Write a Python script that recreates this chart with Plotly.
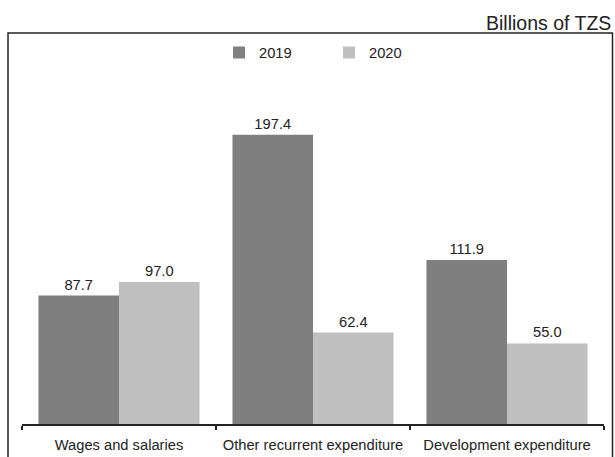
import plotly.graph_objects as go

categories = ["Wages and salaries", "Other recurrent expenditure", "Development expenditure"]
values_2019 = [87.7, 197.4, 111.9]
values_2020 = [97.0, 62.4, 55.0]
series_names = ["2019", "2020"]
unit_label = "Billions of TZS"

W, H = 615, 457
ml, mr, mt, mb = 22, 11, 60, 33
pw = W - ml - mr
ph = H - mt - mb

def px_x(x):
    return (x - ml) / pw

def px_y(y):
    return (H - mb - y) / ph

FONT = "Liberation Sans, Arial, sans-serif"
TXT = "#222222"

fig = go.Figure()
for name, vals, color in [(series_names[0], values_2019, "#7f7f7f"),
                          (series_names[1], values_2020, "#bfbfbf")]:
    fig.add_trace(go.Bar(
        x=categories, y=vals, name=name,
        marker=dict(color=color, line=dict(width=0)),
        text=[f"{v:.1f}" for v in vals],
        textposition="outside",
        textfont=dict(size=14.7, color=TXT, family=FONT),
        cliponaxis=False,
    ))

fig.update_layout(
    width=W, height=H,
    margin=dict(l=ml, r=mr, t=mt, b=mb, autoexpand=False),
    barmode="group", bargap=0.17, bargroupgap=0,
    plot_bgcolor="white", paper_bgcolor="white",
    font=dict(family=FONT, size=14.7, color=TXT),
    showlegend=True,
    legend=dict(orientation="h", x=0.5275, xanchor="center", y=px_y(53), yanchor="middle",
                font=dict(size=14.7, color=TXT), bgcolor="rgba(0,0,0,0)",
                itemwidth=30, entrywidth=65),
    xaxis=dict(type="category", range=[-0.5, 2.5], showline=True, linecolor=TXT,
               linewidth=1.5, ticks="outside", tickson="boundaries", ticklen=4,
               tickcolor=TXT, tickwidth=1.5, showgrid=False, fixedrange=True,
               ticklabelstandoff=7, automargin=False,
               tickfont=dict(size=14.7, color=TXT)),
    yaxis=dict(range=[0, 248.5], visible=False, showgrid=False, fixedrange=True),
    shapes=[dict(type="rect", xref="paper", yref="paper",
                 x0=px_x(8), x1=px_x(612.5), y0=px_y(460), y1=px_y(33),
                 line=dict(color=TXT, width=1.5), fillcolor="rgba(0,0,0,0)", layer="above")],
    annotations=[dict(text=unit_label, xref="paper", yref="paper",
                      x=px_x(613), y=px_y(23), xanchor="right", yanchor="middle",
                      showarrow=False, font=dict(size=19.5, family=FONT, color=TXT))],
)

fig.write_html("out.html", config={"displayModeBar": False},
               post_script="document.body.style.margin='0';document.body.style.overflow='hidden';")
